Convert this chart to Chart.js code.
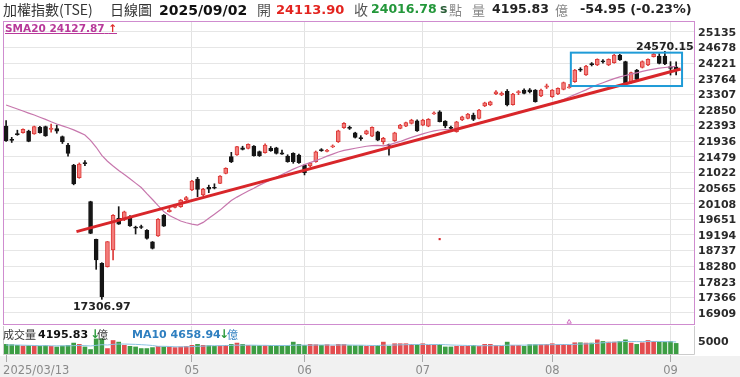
<!DOCTYPE html>
<html>
<head>
<meta charset="utf-8">
<script src="https://cdn.jsdelivr.net/npm/chart.js@4.4.1/dist/chart.umd.min.js"></script>
<style>
body { margin: 0; background: #fff; }
#wrap { position: relative; width: 740px; height: 377px; overflow: hidden; background: #fff; font-family: "DejaVu Sans", sans-serif; }
.t { position: absolute; white-space: nowrap; line-height: 1; }
.cjk { font-family: "Noto Sans CJK TC", sans-serif; }
.b { font-weight: bold; }
canvas { position: absolute; left: 0; }
</style>
</head>
<body>
<div id="wrap">
    <div style="position:absolute;left:0;top:356px;width:740px;height:21px;background:#f1f1f1"></div>
    <canvas id="priceChart" width="740" height="326" style="top:0"></canvas>
    <canvas id="volumeChart" width="740" height="52" style="top:325px"></canvas>

    <span class="t cjk" style="left:3px;top:2px;font-size:14px;color:#333">加權指數(TSE)</span>
    <span class="t cjk" style="left:110px;top:2px;font-size:14px;color:#333">日線圖</span>
    <span class="t b" id="hDate" style="left:159px;top:3px;font-size:14px;color:#111"></span>
    <span class="t cjk" style="left:257px;top:2px;font-size:14px;color:#555">開</span>
    <span class="t b" id="hOpen" style="left:276px;top:3px;font-size:13px;color:#e3241f"></span>
    <span class="t cjk" style="left:354px;top:2px;font-size:14px;color:#555">收</span>
    <span class="t b" id="hClose" style="left:371px;top:3px;font-size:12.5px;color:#23973a"></span>
    <span class="t b" style="left:440px;top:3px;font-size:12.5px;color:#2b5e38">s</span>
    <span class="t cjk" style="left:449px;top:3px;font-size:13px;color:#888">點</span>
    <span class="t cjk" style="left:472px;top:3px;font-size:13px;color:#888">量</span>
    <span class="t b" id="hVol" style="left:492px;top:3px;font-size:12.5px;color:#222"></span>
    <span class="t cjk" style="left:555px;top:3px;font-size:13px;color:#888">億</span>
    <span class="t b" id="hChg" style="left:580px;top:3px;font-size:12.8px;color:#222"></span>

    <span class="t b" style="left:5px;top:23px;font-size:10.5px;color:#b8399a;text-decoration:underline"><span id="smaLabel"></span> <span style="color:#e02a2a">↑</span></span>

    <span class="t cjk" style="left:3px;top:329px;font-size:11px;color:#333">成交量</span>
    <span class="t b" id="vLabel" style="left:38px;top:329px;font-size:11px;color:#111"></span>
    <span class="t b" style="left:90px;top:328px;font-size:12px;color:#2c9a3c">↓</span>
    <span class="t cjk" style="left:97px;top:329px;font-size:11px;color:#333">億</span>
    <span class="t b" id="maLabel" style="left:132px;top:329px;font-size:11px;color:#2f7fc0"></span>
    <span class="t b" style="left:219px;top:328px;font-size:12px;color:#2c9a3c">↓</span>
    <span class="t cjk" style="left:227px;top:329px;font-size:11px;color:#2f7fc0">億</span>
</div>

<script>
const year = '2025';
const dates = ('03/13 03/14 03/17 03/18 03/19 03/20 03/21 03/24 03/25 03/26 03/27 03/28 03/31 ' +
    '04/01 04/02 04/07 04/08 04/09 04/10 04/11 04/14 04/15 04/16 04/17 04/18 04/21 04/22 04/23 04/24 04/25 04/28 04/29 04/30 ' +
    '05/02 05/05 05/06 05/07 05/08 05/09 05/12 05/13 05/14 05/15 05/16 05/19 05/20 05/21 05/22 05/23 05/26 05/27 05/28 05/29 ' +
    '06/02 06/03 06/04 06/05 06/06 06/09 06/10 06/11 06/12 06/13 06/16 06/17 06/18 06/19 06/20 06/23 06/24 06/25 06/26 06/27 06/30 ' +
    '07/01 07/02 07/03 07/04 07/07 07/08 07/09 07/10 07/11 07/14 07/15 07/16 07/17 07/18 07/21 07/22 07/23 07/24 07/25 07/28 07/29 07/30 07/31 ' +
    '08/01 08/04 08/05 08/06 08/07 08/08 08/11 08/12 08/13 08/14 08/15 08/18 08/19 08/20 08/21 08/22 08/25 08/26 08/27 08/28 08/29 ' +
    '09/01 09/02').split(' ');

const opens = [22382, 21990, 22140, 22186, 22235, 22147, 22342, 22362, 22280, 22310,
    22070, 21825, 21240, 20869, 21310, 20166, 19063, 18360, 18263, 18750,
    19680, 19630, 19730, 19420, 19420, 19330, 18990, 19160, 19775, 19870,
    20000, 20020, 20215, 20508, 20830, 20361, 20590, 20590, 20703, 20996,
    21484, 21532, 21740, 21727, 21795, 21630, 21600, 21730, 21745, 21600,
    21503, 21580, 21532, 21240, 21210, 21335, 21690, 21640, 21770, 21921,
    22331, 22340, 22185, 22040, 22147, 22088, 22214, 21921, 21830, 21950,
    22314, 22380, 22460, 22537, 22410, 22380, 22733, 22800, 22528, 22340,
    22214, 22557, 22607, 22704, 22607, 22967, 22996, 23319, 23290, 23400,
    23010, 23360, 23436, 23440, 23436, 23260, 23520, 23240, 23319, 23456,
    23500, 23680, 24050, 23875, 24200, 24168, 24290, 24168, 24237, 24461,
    24266, 23680, 24022, 24100, 24168, 24413, 24432, 24432, 24120, 24113.90];

const highs = [22538, 22050, 22260, 22300, 22260, 22380, 22370, 22380, 22440, 22410,
    22090, 21875, 21260, 21300, 21370, 20180, 19070, 18380, 19000, 19790,
    20020, 19890, 19760, 19450, 19480, 19350, 19000, 19670, 19790, 19970,
    20090, 20230, 20320, 20790, 20878, 20560, 20650, 20690, 20930, 21160,
    21612, 21790, 21790, 21860, 21810, 21650, 21860, 21780, 21760, 21680,
    21540, 21600, 21560, 21260, 21320, 21650, 21720, 21700, 21830, 22260,
    22480, 22380, 22200, 22100, 22260, 22360, 22230, 22050, 21850, 22200,
    22430, 22500, 22580, 22560, 22580, 22600, 22800, 22830, 22540, 22380,
    22520, 22670, 22750, 22760, 22870, 23080, 23110, 23420, 23380, 23450,
    23340, 23420, 23470, 23480, 23450, 23460, 23610, 23450, 23500, 23670,
    23600, 24040, 24090, 24160, 24240, 24350, 24330, 24350, 24480, 24480,
    24280, 23960, 24040, 24290, 24350, 24520, 24500, 24570.15, 24266, 24260];

const lows = [21930, 21900, 22110, 22170, 21920, 22140, 22170, 22080, 22200, 22170,
    21870, 21500, 20660, 20850, 21220, 19230, 18185, 17306.97, 18250, 18460,
    19500, 19610, 19440, 19220, 19380, 19070, 18780, 19150, 19440, 19860,
    19980, 20000, 20200, 20490, 20312, 20340, 20430, 20540, 20690, 20980,
    21310, 21520, 21680, 21710, 21500, 21490, 21590, 21640, 21560, 21550,
    21320, 21290, 21290, 20950, 21190, 21320, 21640, 21620, 21750, 21900,
    22310, 22280, 22030, 21960, 22130, 22070, 21950, 21850, 21530, 21930,
    22300, 22360, 22440, 22220, 22390, 22360, 22720, 22500, 22330, 22230,
    22200, 22540, 22590, 22540, 22590, 22950, 22980, 23300, 23270, 22970,
    22990, 23300, 23320, 23350, 23080, 23240, 23480, 23220, 23300, 23440,
    23490, 23660, 23980, 23860, 24140, 24150, 24220, 24150, 24220, 24300,
    23620, 23640, 23730, 24080, 24150, 24400, 24200, 24180, 23875, 23880];

const closes = [21952, 21960, 22130, 22284, 21932, 22362, 22186, 22089, 22320, 22230,
    21920, 21580, 20683, 21269, 21280, 19239, 18458, 17384, 18995, 19770,
    19510, 19870, 19460, 19390, 19410, 19090, 18800, 19650, 19450, 19920,
    20068, 20215, 20283, 20771, 20527, 20537, 20530, 20560, 20917, 21142,
    21327, 21776, 21700, 21844, 21513, 21513, 21825, 21660, 21580, 21560,
    21337, 21337, 21307, 21015, 21297, 21628, 21660, 21670, 21800, 22243,
    22460, 22310, 22050, 22010, 22243, 22343, 21971, 22021, 21810, 22185,
    22410, 22480, 22557, 22235, 22557, 22577, 22770, 22507, 22381, 22310,
    22507, 22654, 22733, 22577, 22850, 23064, 23093, 23386, 23340, 22996,
    23320, 23390, 23338, 23380, 23094, 23436, 23560, 23436, 23485, 23651,
    23530, 24022, 24020, 24139, 24180, 24334, 24260, 24334, 24461, 24315,
    23631, 23944, 23748, 24266, 24334, 24491, 24217, 24198, 24071.73, 24016.78];

const sma20 = [22996, 22940, 22880, 22820, 22760, 22703, 22640, 22575, 22505, 22440,
    22385, 22330, 22270, 22195, 22117, 21960, 21760, 21520, 21350, 21210,
    21080, 20960, 20840, 20710, 20580, 20400, 20230, 20050, 19880, 19760,
    19680, 19600, 19550, 19510, 19480, 19560, 19680, 19800, 19920, 20060,
    20200, 20300, 20390, 20480, 20560, 20650, 20730, 20800, 20880, 20960,
    21040, 21120, 21190, 21250, 21310, 21370, 21430, 21500, 21560, 21620,
    21670, 21700, 21730, 21760, 21790, 21810, 21815, 21800, 21830, 21880,
    21930, 21990, 22050, 22100, 22150, 22200, 22240, 22265, 22280, 22270,
    22310, 22350, 22390, 22430, 22475, 22520, 22565, 22610, 22650, 22690,
    22735, 22780, 22825, 22870, 22915, 22960, 23005, 23050, 23100, 23160,
    23230, 23300, 23370, 23440, 23520, 23590, 23650, 23710, 23770, 23820,
    23860, 23900, 23940, 23980, 24020, 24050, 24075, 24095, 24112, 24127.87];

const volumes = [3900, 3800, 3600, 3400, 3500, 3400, 3300, 3500, 3300, 3100,
    3400, 3600, 4300, 3900, 3100, 2300, 5600, 5600, 2600, 5100,
    4600, 3600, 3300, 3100, 2600, 2600, 2900, 3300, 3100, 3100,
    2900, 3100, 3300, 3600, 3900, 3600, 3500, 3300, 3400, 3600,
    3900, 4300, 3900, 3600, 3500, 3500, 3500, 3600, 3500, 3500,
    3500, 4600, 3900, 3600, 3900, 3800, 3600, 3800, 3400, 3900,
    3900, 3500, 3500, 3500, 3300, 3300, 3600, 4600, 3300, 4100,
    4100, 4100, 3900, 3900, 4100, 3600, 3900, 3900, 3100, 3100,
    3300, 3300, 3300, 3600, 3300, 3900, 3900, 3600, 3300, 4600,
    3600, 3600, 3300, 3800, 3800, 3800, 3900, 4100, 3800, 3900,
    3600, 4400, 4400, 4300, 4300, 5300, 4800, 4600, 4600, 4800,
    5300, 4300, 3900, 4400, 5100, 4800, 4600, 4600, 4800, 4195.83];

const volMa10 = [3700, 3700, 3700, 3650, 3600, 3550, 3500, 3500, 3450, 3450,
    3450, 3450, 3500, 3550, 3500, 3400, 3600, 3800, 3700, 3900,
    4000, 4000, 3950, 3900, 3800, 3700, 3550, 3300, 3300, 3250,
    3150, 3150, 3150, 3200, 3300, 3350, 3450, 3500, 3500, 3550,
    3600, 3650, 3650, 3650, 3650, 3600, 3600, 3550, 3550, 3550,
    3550, 3650, 3650, 3650, 3650, 3700, 3700, 3700, 3700, 3700,
    3750, 3700, 3650, 3650, 3600, 3550, 3550, 3650, 3650, 3700,
    3750, 3800, 3850, 3850, 3900, 3850, 3850, 3850, 3800, 3700,
    3650, 3600, 3550, 3500, 3450, 3500, 3500, 3500, 3550, 3650,
    3650, 3650, 3650, 3700, 3750, 3800, 3800, 3800, 3850, 3850,
    3850, 3900, 4000, 4050, 4100, 4250, 4400, 4500, 4600, 4700,
    4800, 4800, 4750, 4750, 4800, 4800, 4800, 4750, 4700, 4658.94];

const priceTicks = [16909, 17366, 17823, 18280, 18737, 19194, 19651, 20108, 20565, 21022,
    21479, 21936, 22393, 22850, 23307, 23764, 24221, 24678, 25135];
const volumeTicks = [5000];

// trend line drawn by the source: [index, value]
const trendLine = [[12.5, 19290], [119.8, 24050]];
const signalMarks = [[77, 19070]];
const alertMarks = [[100, 16645]];

const UP_LINE = '#dc3a38';
const UP_FILL = '#f37c7a';
const DOWN = '#151515';
const VOL_UP = '#e34d4f';
const VOL_DOWN = '#3c9d43';

const last = closes.length - 1;
const isUp = i => closes[i] > opens[i];

// month boundaries for the x axis (skip April: too close to first label)
const monthStarts = dates
    .map((d, i) => (i === 0 || d.slice(0, 2) !== dates[i - 1].slice(0, 2)) ? i : -1)
    .filter(i => i === 0 || i >= 20);
const monthLabel = i => i === 0 ? `${year}/${dates[0]}` : dates[i].slice(0, 2);

document.getElementById('hDate').textContent = `${year}/${dates[last]}`;
document.getElementById('hOpen').textContent = opens[last].toFixed(2);
document.getElementById('hClose').textContent = closes[last].toFixed(2);
document.getElementById('hVol').textContent = volumes[last].toFixed(2);
const chg = closes[last] - closes[last - 1];
document.getElementById('hChg').textContent =
    `${chg.toFixed(2)} (${(chg / closes[last - 1] * 100).toFixed(2)}%)`;
document.getElementById('smaLabel').textContent = `SMA20 ${sma20[last].toFixed(2)}`;
document.getElementById('vLabel').textContent = volumes[last].toFixed(2);
document.getElementById('maLabel').textContent = `MA10 ${volMa10[last].toFixed(2)}`;

const xRange = { min: -0.55, max: 122.35 };

function xScale(showTicks) {
    return {
        type: 'linear',
        min: xRange.min,
        max: xRange.max,
        offset: false,
        afterBuildTicks: s => { s.ticks = monthStarts.map(v => ({ value: v })); },
        grid: {
            offset: false,
            color: c => c.index === 0 ? 'rgba(0,0,0,0)' : '#e2e2e2',
            drawTicks: showTicks,
            tickLength: 7,
            tickColor: '#aaaaaa'
        },
        border: { display: false },
        ticks: { display: false }
    };
}

// right value axis: fixed width, labels drawn by the axisLabels plugin
function valueAxis(min, max, ticks, showGrid) {
    return {
        position: 'right',
        min: min,
        max: max,
        afterBuildTicks: s => { s.ticks = ticks.map(v => ({ value: v })); },
        afterFit: s => { s.width = 45; },
        grid: { display: showGrid, color: '#e6e6e6', drawTicks: false },
        border: { display: false },
        ticks: { display: false }
    };
}

const axisLabels = {
    id: 'axisLabels',
    afterDraw(chart) {
        const { ctx, chartArea: a, scales: { y } } = chart;
        ctx.save();
        ctx.font = 'bold 11px "DejaVu Sans"';
        ctx.fillStyle = '#2a2a2a';
        ctx.textAlign = 'left';
        ctx.textBaseline = 'middle';
        y.ticks.forEach(t => ctx.fillText(String(t.value), a.right + 3, y.getPixelForValue(t.value) + 1));
        ctx.restore();
    }
};

const priceDecor = {
    id: 'priceDecor',
    afterDatasetsDraw(chart) {
        const { ctx, chartArea: a, scales: { x, y } } = chart;
        ctx.save();
        // highlight box around the latest consolidation
        const bx1 = x.getPixelForValue(100.3), bx2 = x.getPixelForValue(120.05);
        const by1 = y.getPixelForValue(24530), by2 = y.getPixelForValue(23553);
        ctx.strokeStyle = '#1f9bd7';
        ctx.lineWidth = 2;
        ctx.strokeRect(bx1, by1, bx2 - bx1, by2 - by1);

        // highest high label
        const hi = Math.max(...highs);
        const k = highs.indexOf(hi);
        ctx.font = 'bold 11px "DejaVu Sans"';
        ctx.fillStyle = '#222';
        ctx.textAlign = 'center';
        ctx.textBaseline = 'alphabetic';
        ctx.fillText(hi.toFixed(2), x.getPixelForValue(k), y.getPixelForValue(hi) - 1);

        // lowest low label
        const lo = Math.min(...lows);
        const j = lows.indexOf(lo);
        ctx.textBaseline = 'top';
        ctx.fillText(lo.toFixed(2), x.getPixelForValue(j), y.getPixelForValue(lo) + 2);

        ctx.strokeStyle = '#cf8ccf';
        ctx.lineWidth = 1;
        ctx.strokeRect(a.left + 0.5, a.top + 0.5, a.right - a.left - 1, a.bottom - a.top - 1);
        ctx.restore();
    }
};

new Chart(document.getElementById('priceChart'), {
    type: 'bar',
    data: {
        datasets: [{
            type: 'line',
            label: 'trend',
            data: trendLine.map(([i, v]) => ({ x: i, y: v })),
            borderColor: '#d8262a',
            borderWidth: 3,
            pointRadius: 0,
            order: 0
        }, {
            type: 'line',
            label: 'signal',
            data: signalMarks.map(([i, v]) => ({ x: i, y: v })),
            showLine: false,
            pointStyle: 'rect',
            pointRadius: 1.5,
            pointBackgroundColor: '#d8262a',
            pointBorderWidth: 0,
            order: 0
        }, {
            type: 'line',
            label: 'alert',
            data: alertMarks.map(([i, v]) => ({ x: i, y: v })),
            showLine: false,
            pointStyle: 'triangle',
            pointRadius: 2.5,
            pointBackgroundColor: 'rgba(0,0,0,0)',
            pointBorderColor: '#d070c0',
            pointBorderWidth: 1,
            order: 0
        }, {
            type: 'line',
            label: 'SMA20',
            data: sma20.map((v, i) => ({ x: i, y: v })),
            borderColor: '#c777ad',
            borderWidth: 1.2,
            pointRadius: 0,
            order: 1
        }, {
            label: 'body',
            data: opens.map((o, i) => ({ x: i, y: [o, closes[i]] })),
            backgroundColor: opens.map((o, i) => isUp(i) ? UP_FILL : DOWN),
            borderColor: opens.map((o, i) => isUp(i) ? UP_LINE : DOWN),
            borderWidth: 1,
            borderSkipped: false,
            barThickness: 4,
            minBarLength: 1,
            grouped: false,
            order: 2
        }, {
            label: 'wick',
            data: highs.map((h, i) => ({ x: i, y: [lows[i], h] })),
            backgroundColor: highs.map((h, i) => isUp(i) ? UP_LINE : DOWN),
            barThickness: 1,
            grouped: false,
            order: 3
        }]
    },
    options: {
        responsive: false,
        animation: false,
        devicePixelRatio: 1,
        events: [],
        layout: { autoPadding: false, padding: { left: 3, top: 21, right: 0, bottom: 1 } },
        plugins: { legend: { display: false }, tooltip: { enabled: false } },
        scales: {
            x: Object.assign(xScale(false), { afterFit: s => { s.height = 0; } }),
            y: valueAxis(16555, 25457, priceTicks, true)
        }
    },
    plugins: [priceDecor, axisLabels]
});

const volumeDecor = {
    id: 'volumeDecor',
    afterDraw(chart) {
        const { ctx, chartArea: a, scales: { x } } = chart;
        ctx.save();
        ctx.strokeStyle = '#cccccc';
        ctx.lineWidth = 1;
        ctx.beginPath();
        ctx.moveTo(a.left + 0.5, a.top);
        ctx.lineTo(a.left + 0.5, a.bottom - 0.5);
        ctx.lineTo(a.right - 0.5, a.bottom - 0.5);
        ctx.lineTo(a.right - 0.5, a.top);
        ctx.stroke();

        ctx.font = '11.5px "DejaVu Sans"';
        ctx.fillStyle = '#8a8a8a';
        ctx.textBaseline = 'middle';
        monthStarts.forEach(i => {
            const px = x.getPixelForValue(i);
            ctx.textAlign = i === 0 ? 'left' : 'center';
            ctx.fillText(monthLabel(i), i === 0 ? px - 3 : px, a.bottom + 16);
        });
        ctx.restore();
    }
};

new Chart(document.getElementById('volumeChart'), {
    type: 'bar',
    data: {
        datasets: [{
            type: 'line',
            label: 'MA10',
            data: volMa10.map((v, i) => ({ x: i, y: v })),
            borderColor: '#8cc3e2',
            borderWidth: 1,
            pointRadius: 0,
            order: 0
        }, {
            label: 'volume',
            data: volumes.map((v, i) => ({ x: i, y: v })),
            backgroundColor: volumes.map((v, i) => isUp(i) ? VOL_UP : VOL_DOWN),
            barThickness: 4,
            grouped: false,
            order: 1
        }]
    },
    options: {
        responsive: false,
        animation: false,
        devicePixelRatio: 1,
        events: [],
        layout: { autoPadding: false, padding: { left: 3, top: 1, right: 0, bottom: 0 } },
        plugins: { legend: { display: false }, tooltip: { enabled: false } },
        scales: {
            x: Object.assign(xScale(true), { afterFit: s => { s.height = 22; } }),
            y: valueAxis(600, 9600, volumeTicks, false)
        }
    },
    plugins: [volumeDecor, axisLabels]
});
</script>
</body>
</html>
